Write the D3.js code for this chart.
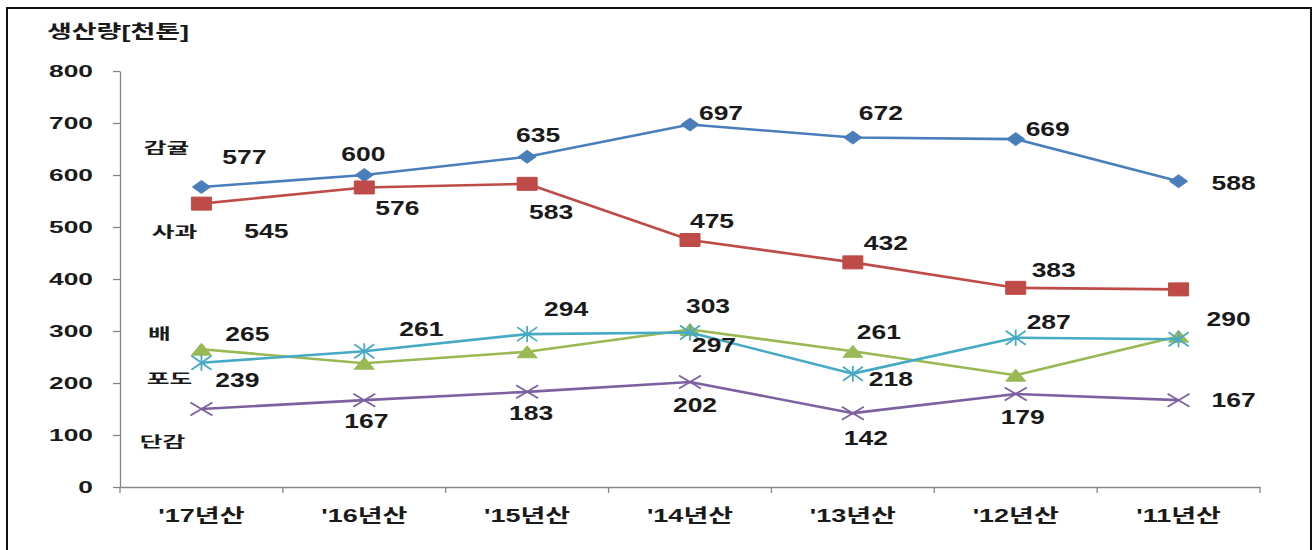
<!DOCTYPE html>
<html>
<head>
<meta charset="utf-8">
<script src="https://cdn.jsdelivr.net/npm/d3@7"></script>
<style>
  body { margin: 0; background: #fff; }
  svg { display: block; }
  .num { font-family: "Liberation Sans", Arial, sans-serif; font-weight: bold; fill: #1a1a1a; }
  .kor { font-family: "Liberation Sans", "Noto Sans CJK KR", sans-serif; font-weight: bold; fill: #1a1a1a; }
</style>
</head>
<body>
<div id="chart"></div>
<script>
// Production by crop year, thousand tons
const categories = ["'17년산", "'16년산", "'15년산", "'14년산", "'13년산", "'12년산", "'11년산"];
const seriesNames = ["감귤", "사과", "배", "포도", "단감"];
const citrus = [577, 600, 635, 697, 672, 669, 588];
const apple = [545, 576, 583, 475, 432, 383, 380];
const pear = [265, 238, 260, 303, 261, 215, 290];
const grape = [239, 261, 294, 297, 218, 287, 284];
const persimmon = [150, 167, 183, 202, 142, 179, 167];
const yTicks = [0, 100, 200, 300, 400, 500, 600, 700, 800];
const yTitle = "생산량[천톤]";

// Where each value label sits relative to its point (null = no label shown)
const labelOffsets = [
  [[43, -31], [-1, -22], [11, -22], [31, -12], [28, -25], [32, -11], [55, 1]],
  [[65, 27], [33, 20], [24, 28], [22, -20], [33, -20], [38, -18], null],
  [[46, -16], null, null, [18, -24], [26, -20], null, [50, -18]],
  [[36, 17], [57, -23], [39, -26], [24, 12], [38, 5], [33, -16], null],
  [null, [2, 20], [4, 21], [5, 22], [13, 24], [7, 23], [55, -1]]
];
// Series name text boxes, offset from the first point of each series
const nameOffsets = [[-35, -39], [-27, 28], [-42, -16], [-32, 16], [-39, 33]];

class ProductionChart {
  constructor(_config) {
    this.config = {
      parentElement: _config.parentElement,
      containerWidth: _config.containerWidth || 1316,
      containerHeight: _config.containerHeight || 550,
      margin: { top: 71, bottom: 63, right: 56, left: 120 }
    }
    this.series = [
      { name: seriesNames[0], values: citrus, color: '#4a7ebb', marker: 'diamond' },
      { name: seriesNames[1], values: apple, color: '#be4b48', marker: 'square' },
      { name: seriesNames[2], values: pear, color: '#98b954', marker: 'triangle' },
      { name: seriesNames[3], values: grape, color: '#46aac5', marker: 'star' },
      { name: seriesNames[4], values: persimmon, color: '#7d60a0', marker: 'cross' }
    ];
    this.initVis();
  }

  initVis() {
    let vis = this;
    let c = vis.config;
    c.innerWidth = c.containerWidth - c.margin.left - c.margin.right;
    c.innerHeight = c.containerHeight - c.margin.top - c.margin.bottom;

    vis.svg = d3.select(c.parentElement).append('svg')
      .attr('width', c.containerWidth)
      .attr('height', c.containerHeight);

    // outer frame (bottom edge runs off the picture)
    vis.svg.append('rect')
      .attr('x', 7).attr('y', 8)
      .attr('width', 1304).attr('height', 580)
      .attr('fill', 'none')
      .attr('stroke', '#111')
      .attr('stroke-width', 2);

    vis.xScale = d3.scaleBand()
      .domain(categories)
      .range([c.margin.left, c.margin.left + c.innerWidth]);

    vis.yScale = d3.scaleLinear()
      .domain([0, 800])
      .range([c.margin.top + c.innerHeight, c.margin.top]);

    vis.xPos = i => vis.xScale(categories[i]) + vis.xScale.bandwidth() / 2;
  }

  // text drawn wider than the font, like the source picture
  stretchText(x, y, text, cls, size, sx, anchor) {
    return this.svg.append('text')
      .attr('class', cls)
      .attr('transform', `translate(${x},${y}) scale(${sx},1)`)
      .attr('text-anchor', anchor || 'middle')
      .attr('dy', '0.36em')
      .style('font-size', size + 'px')
      .text(text);
  }

  renderAxes() {
    let vis = this;
    let c = vis.config;
    const axisColor = '#868686';

    let yAxis = d3.axisLeft(vis.yScale)
      .tickValues(yTicks)
      .tickSize(7)
      .tickSizeOuter(0)
      .tickFormat('');
    let yg = vis.svg.append('g')
      .attr('transform', `translate(${c.margin.left},0)`)
      .call(yAxis);
    yg.selectAll('path, line').attr('stroke', axisColor).attr('stroke-width', 1.3);

    let xAxis = d3.axisBottom(vis.xScale).tickSize(0).tickSizeOuter(0).tickFormat('');
    let xg = vis.svg.append('g')
      .attr('transform', `translate(0,${vis.yScale(0)})`)
      .call(xAxis);
    xg.select('path').attr('stroke', axisColor).attr('stroke-width', 1.3);

    // ticks sit between categories
    let bounds = categories.map(d => vis.xScale(d)).concat([vis.xScale.range()[1]]);
    xg.selectAll('.bound').data(bounds).join('line')
      .attr('class', 'bound')
      .attr('x1', d => d).attr('x2', d => d)
      .attr('y1', 0).attr('y2', 6)
      .attr('stroke', axisColor).attr('stroke-width', 1.3);

    yTicks.forEach(t => {
      vis.stretchText(c.margin.left - 27, vis.yScale(t), t, 'num', 17, 1.55, 'end');
    });
    categories.forEach((d, i) => {
      vis.stretchText(vis.xPos(i), vis.yScale(0) + 29, d, 'kor', 18, 1.5);
    });
    vis.stretchText(118, 32, yTitle, 'kor', 18, 1.5);
  }

  markerPath(type) {
    switch (type) {
      case 'diamond': return 'M0,-6.5L9,0L0,6.5L-9,0Z';
      case 'square': return 'M-10,-6.5H10V6.5H-10Z';
      case 'triangle': return 'M0,-6L10,6H-10Z';
      case 'star': return 'M-10,-7L10,7M-10,7L10,-7M0,-8V8';
      default: return 'M-11,-6.5L11,6.5M-11,6.5L11,-6.5';
    }
  }

  renderSeries() {
    let vis = this;
    let line = d3.line()
      .x((d, i) => vis.xPos(i))
      .y(d => vis.yScale(d));

    let groups = vis.svg.selectAll('.series').data(vis.series).join('g')
      .attr('class', 'series');

    groups.append('path')
      .attr('d', d => line(d.values))
      .attr('fill', 'none')
      .attr('stroke', d => d.color)
      .attr('stroke-width', 2.6)
      .attr('stroke-linejoin', 'round');

    groups.each(function(s) {
      let open = s.marker === 'star' || s.marker === 'cross';
      d3.select(this).selectAll('.marker').data(s.values).join('path')
        .attr('class', 'marker')
        .attr('transform', (d, i) => `translate(${vis.xPos(i)},${vis.yScale(d)})`)
        .attr('d', vis.markerPath(s.marker))
        .attr('fill', open ? 'none' : s.color)
        .attr('stroke', s.color)
        .attr('stroke-width', open ? 1.8 : 1);
    });

    // value labels
    vis.series.forEach((s, si) => {
      s.values.forEach((v, i) => {
        let off = labelOffsets[si][i];
        if (!off) return;
        vis.stretchText(vis.xPos(i) + off[0], vis.yScale(v) + off[1], v, 'num', 21, 1.26);
      });
      let n = nameOffsets[si];
      vis.stretchText(vis.xPos(0) + n[0], vis.yScale(s.values[0]) + n[1], s.name, 'kor', 15, 1.65);
    });
  }

  renderVis() {
    this.renderAxes();
    this.renderSeries();
  }
}

let chart = new ProductionChart({ parentElement: '#chart' });
chart.renderVis();
</script>
</body>
</html>
